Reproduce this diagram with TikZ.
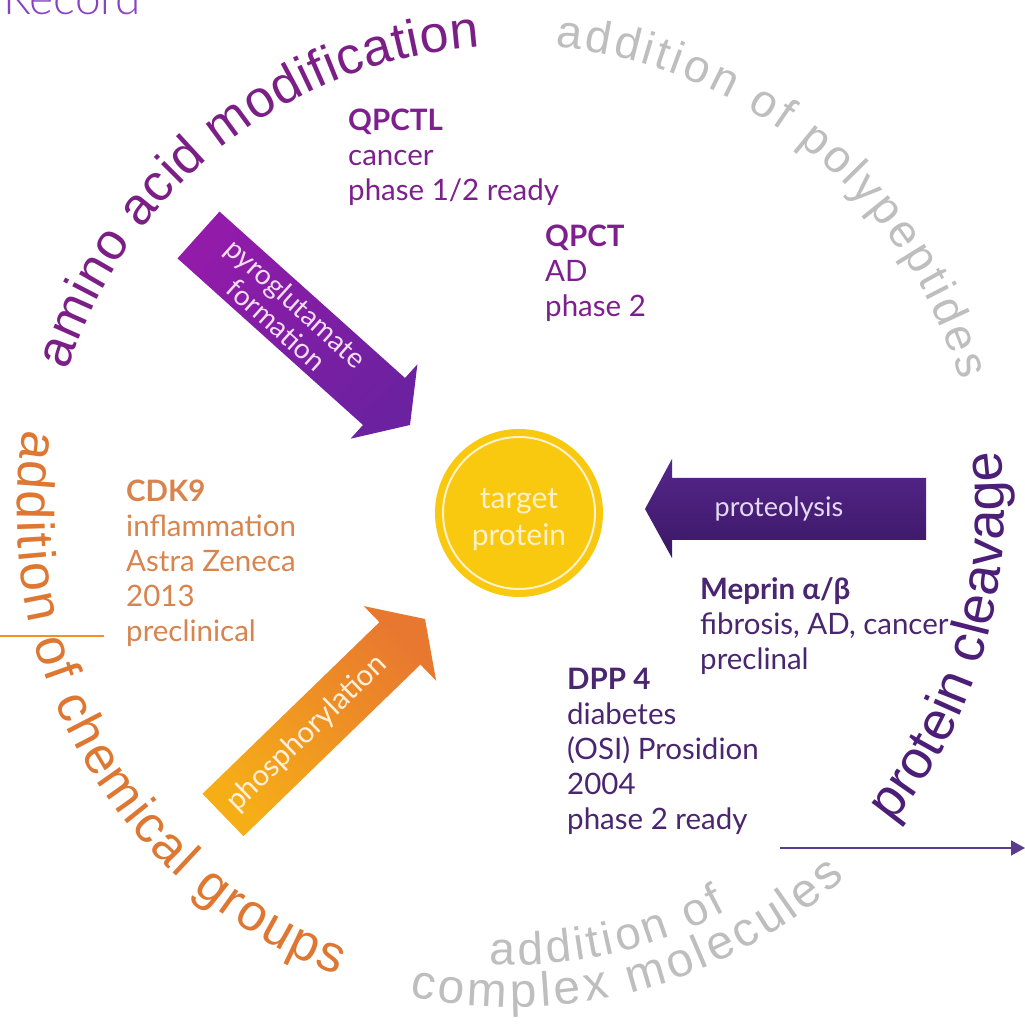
\documentclass[tikz,border=0pt]{standalone}
\usepackage{fontspec}
\setmainfont{Lato}
\newfontfamily\arcfont{Liberation Sans}
\newfontfamily\recfont{Lato Light}
\usetikzlibrary{decorations.text,arrows.meta}

\definecolor{aminopurple}{HTML}{7B1F86}
\definecolor{qpcol}{HTML}{7E1F8E}
\definecolor{pyroA}{HTML}{921BAA}
\definecolor{pyroB}{HTML}{6C21A0}
\definecolor{pyrotext}{HTML}{F4DDF3}
\definecolor{proteoA}{HTML}{57268C}
\definecolor{proteoB}{HTML}{3A1865}
\definecolor{proteotext}{HTML}{E4DAF0}
\definecolor{mepcol}{HTML}{4A2570}
\definecolor{cleavcol}{HTML}{4C1E78}
\definecolor{phosA}{HTML}{F6AE17}
\definecolor{phosB}{HTML}{E8782F}
\definecolor{phostext}{HTML}{FFF0DA}
\definecolor{cdkcol}{HTML}{D8844E}
\definecolor{chemcol}{HTML}{DE7732}
\definecolor{targetyel}{HTML}{F9C910}
\definecolor{ringcol}{HTML}{FCF1CB}
\definecolor{labgray}{HTML}{BEBEBE}
\definecolor{reccol}{HTML}{8643C6}
\definecolor{lineorange}{HTML}{F29124}
\definecolor{linkpurple}{HTML}{5B3B8D}

\newcommand{\arcsize}[1]{\arcfont\fontsize{#1}{#1}\selectfont}

\tikzset{
    info/.style={anchor=base west, align=left, inner sep=0pt, font=\fontsize{29.5}{35}\selectfont},
    arrowtext/.style={align=center, inner sep=0pt, font=\fontsize{28}{29}\selectfont},
    arclabel/.style={decorate, shift={(512,512)},
        decoration={text along path, text align=fit to path, #1}}
}

\begin{document}
\begin{tikzpicture}[x=1pt, y=1pt]
        \clip (0,0) rectangle (1025,1024);
        \fill [white] (0,0) rectangle (1025,1024);

        \node [anchor=base west, inner sep=0pt, text=reccol, font=\recfont\fontsize{46}{46}\selectfont] (record) at (3,1009) {Record};

        % labels round the wheel
        \path [arclabel={text={|\arcsize{52}|amino acid modification}, text color=aminopurple}]
            (162.3:466pt) arc[start angle=162.3, end angle=93.9, radius=466pt];
        \path [arclabel={text={|\arcsize{46}|addition of polypeptides}, text color=labgray}]
            (84.7:467pt) arc[start angle=84.7, end angle=16.4, radius=467pt];
        \path [arclabel={text={|\arcsize{54}|protein cleavage}, text color=cleavcol}]
            (-39.3:492pt) arc[start angle=-39.3, end angle=7.2, radius=492pt];
        \path [arclabel={text={|\arcsize{52}|addition of chemical groups}, text color=chemcol}]
            (170.4:495pt) arc[start angle=170.4, end angle=249.3, radius=495pt];
        \path [arclabel={text={|\arcsize{46}|addition of}, text color=labgray}]
            (267.2:453pt) arc[start angle=267.2, end angle=298.3, radius=453pt];
        \path [arclabel={text={|\arcsize{48}|complex molecules}, text color=labgray}]
            (258:495pt) arc[start angle=258, end angle=312.4, radius=495pt];

        % pyroglutamate formation
        \shade [top color=pyroB, bottom color=pyroA, shading angle=-131.9]
            (219.5,812.4) -- (405,646) -- (417.4,659.7) -- (410,599) -- (350.6,585.3) -- (363,599) -- (177.5,765.6) -- cycle;
        \node [arrowtext, text=pyrotext, rotate=-41.9] (pyro) at (286.3,710.2) {pyroglutamate\\formation};

        % phosphorylation
        \shade [top color=phosB, bottom color=phosA, shading angle=-45.9]
            (202.5,230.2) -- (379.4,401.8) -- (363.7,417.9) -- (425,405) -- (436.1,343.3) -- (420.4,359.4) -- (243.5,187.8) -- cycle;
        \node [arrowtext, text=phostext, rotate=44.1, font=\fontsize{29.5}{30}\selectfont] (phos) at (307,290.5) {phosphorylation};

        % proteolysis
        \shade [top color=proteoA, bottom color=proteoB]
            (926,546) -- (672,546) -- (672,565) -- (645,515) -- (672,466) -- (672,484) -- (926,484) -- cycle;
        \node [arrowtext, text=proteotext, font=\fontsize{27}{29}\selectfont] (proteo) at (779,515) {proteolysis};

        \node [circle, fill=targetyel, minimum size=168pt, inner sep=0pt] (target) at (519,511) {};
        \draw [ringcol, line width=2pt] (target.center) circle[radius=76pt];
        \node [align=center, inner sep=0pt, text=ringcol, font=\fontsize{30}{37}\selectfont] (targettext) at ([yshift=-7pt]target.center) {target\\protein};

        \node [info, text=qpcol] (qpctl) at (348,823) {\textbf{QPCTL}\\cancer\\phase 1/2 ready};
        \node [info, text=qpcol] (qpct) at (545,707) {\textbf{QPCT}\\AD\\phase 2};
        \node [info, text=cdkcol] (cdk9) at (126,382) {\textbf{CDK9}\\inflammation\\Astra Zeneca\\2013\\preclinical};
        \node [info, text=mepcol] (meprin) at (700,354) {\textbf{Meprin α/β}\\fibrosis, AD, cancer\\preclinal};
        \node [info, text=mepcol] (dpp4) at (567,194) {\textbf{DPP 4}\\diabetes\\(OSI) Prosidion\\2004\\phase 2 ready};

        \coordinate (tickL) at (0,388);
        \coordinate (tickR) at (104,388);
        \draw [lineorange, line width=1.3pt] (tickL) -- (tickR);
        \coordinate (linkA) at (780,176);
        \coordinate (linkB) at (1025,176);
        \draw [linkpurple, line width=1.6pt, -{Triangle[length=14pt, width=15pt]}] (linkA) -- (linkB);
    \end{tikzpicture}
\end{document}
